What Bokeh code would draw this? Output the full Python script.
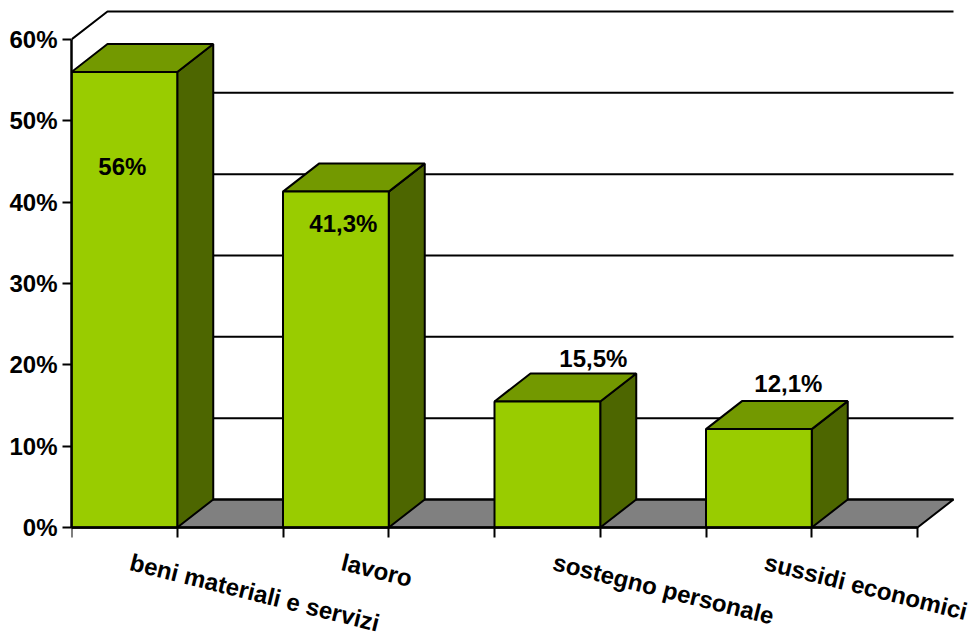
import math
from bokeh.plotting import figure
from bokeh.models import ColumnDataSource, Range1d, FixedTicker, LabelSet
from bokeh.core.properties import value
from bokeh.embed import file_html
from bokeh.resources import INLINE

# ---- data ----
categories = ["beni materiali e servizi", "lavoro", "sostegno personale", "sussidi economici"]
values = [56.0, 41.3, 15.5, 12.1]
value_labels = ["56%", "41,3%", "15,5%", "12,1%"]
y_ticks = [0, 10, 20, 30, 40, 50, 60]
y_tick_labels = ["0%", "10%", "20%", "30%", "40%", "50%", "60%"]

# ---- geometry / style ----
PX_PER_CAT = 211.5
PX_PER_PCT = 488.0 / 60.0
DX = 36.0 / PX_PER_CAT      # depth offset (x, in category units)
DY = 28.0 / PX_PER_PCT      # depth offset (y, in percent units)
BAR_W = 0.5
CAT_LABEL_SHIFT = 59.0 / PX_PER_CAT
N = len(categories)
FONT = value("Liberation Sans")
FRONT = "#99CC00"
TOP = "#739900"
SIDE = "#4D6600"
FLOOR = "#808080"
# pixel offsets of the value labels from the front-top centre of each bar
LABEL_DX = [-2, 7.5, 46, 29.5]
LABEL_DY = [-102.5, -40, 34, 36.6]

p = figure(width=977, height=640,
           x_range=Range1d(0, 906.0 / PX_PER_CAT),
           y_range=Range1d(-113.0 / PX_PER_PCT, 527.0 / PX_PER_PCT),
           output_backend="svg", toolbar_location=None,
           min_border_left=71, min_border_right=0,
           min_border_top=0, min_border_bottom=0)
p.grid.visible = False
p.outline_line_color = None
p.background_fill_color = "white"
p.border_fill_color = "white"

# floor
p.patch([0, N, N + DX, DX], [0, 0, DY, DY], fill_color=FLOOR,
        line_color="black", line_width=2)

# gridlines (side wall diagonal + back wall)
gx = [[0, DX, N + DX] for t in y_ticks]
gy = [[t, t + DY, t + DY] for t in y_ticks]
p.multi_line(gx, gy, line_color="black", line_width=2)

# bars
idx = list(range(N))
left = [i for i in idx]
right = [i + BAR_W for i in idx]
top_xs = [[i, i + BAR_W, i + BAR_W + DX, i + DX] for i in idx]
top_ys = [[v, v, v + DY, v + DY] for v in values]
side_xs = [[i + BAR_W, i + BAR_W + DX, i + BAR_W + DX, i + BAR_W] for i in idx]
side_ys = [[0, DY, v + DY, v] for v in values]

src = ColumnDataSource(dict(left=left, right=right, bottom=[0] * N, top=values,
                            top_xs=top_xs, top_ys=top_ys,
                            side_xs=side_xs, side_ys=side_ys))
p.patches("side_xs", "side_ys", source=src, fill_color=SIDE, line_color="black", line_width=2)
p.patches("top_xs", "top_ys", source=src, fill_color=TOP, line_color="black", line_width=2)
p.quad(left="left", right="right", bottom="bottom", top="top", source=src,
       fill_color=FRONT, line_color="black", line_width=2)

# value labels
lab_src = ColumnDataSource(dict(
    x=[i + BAR_W / 2 for i in idx],
    y=values,
    text=value_labels,
    xo=LABEL_DX, yo=LABEL_DY))
p.add_layout(LabelSet(x="x", y="y", text="text", source=lab_src,
                      x_offset="xo", y_offset="yo",
                      text_align="center", text_baseline="alphabetic",
                      text_font=FONT, text_font_size="24px",
                      text_font_style="bold", text_color="black"))

# axes
ya = p.yaxis[0]
ya.ticker = FixedTicker(ticks=y_ticks)
ya.major_label_overrides = {t: l for t, l in zip(y_ticks, y_tick_labels)}
ya.bounds = (0, 60)
ya.major_tick_in = 0
ya.major_tick_out = 9
ya.minor_tick_line_color = None
ya.axis_line_width = 2.5
ya.major_tick_line_width = 2
ya.axis_line_color = "black"
ya.major_tick_line_color = "black"
ya.major_label_text_font = "Liberation Sans"
ya.major_label_text_font_size = "24px"
ya.major_label_text_font_style = "bold"
ya.major_label_text_color = "black"
ya.major_label_standoff = 5

# x axis: category names on (invisible) major ticks, bar edges as minor ticks
cat_pos = [i + CAT_LABEL_SHIFT for i in idx]
xa = p.xaxis[0]
xa.fixed_location = 0
xa.ticker = FixedTicker(ticks=cat_pos, minor_ticks=[i * BAR_W for i in range(2 * N + 1)])
xa.major_label_overrides = {c: name for c, name in zip(cat_pos, categories)}
xa.bounds = (0, N)
xa.major_tick_in = 0
xa.major_tick_out = 0
xa.major_tick_line_color = None
xa.minor_tick_in = 0
xa.minor_tick_out = 10
xa.minor_tick_line_width = 2
xa.minor_tick_line_color = "black"
xa.axis_line_width = 2.5
xa.axis_line_color = "black"
xa.major_label_orientation = -math.radians(14)
xa.major_label_standoff = 24
xa.major_label_text_font = "Liberation Sans"
xa.major_label_text_font_size = "24px"
xa.major_label_text_font_style = "bold"
xa.major_label_text_color = "black"

open("out.html", "w").write(file_html(p, INLINE))
